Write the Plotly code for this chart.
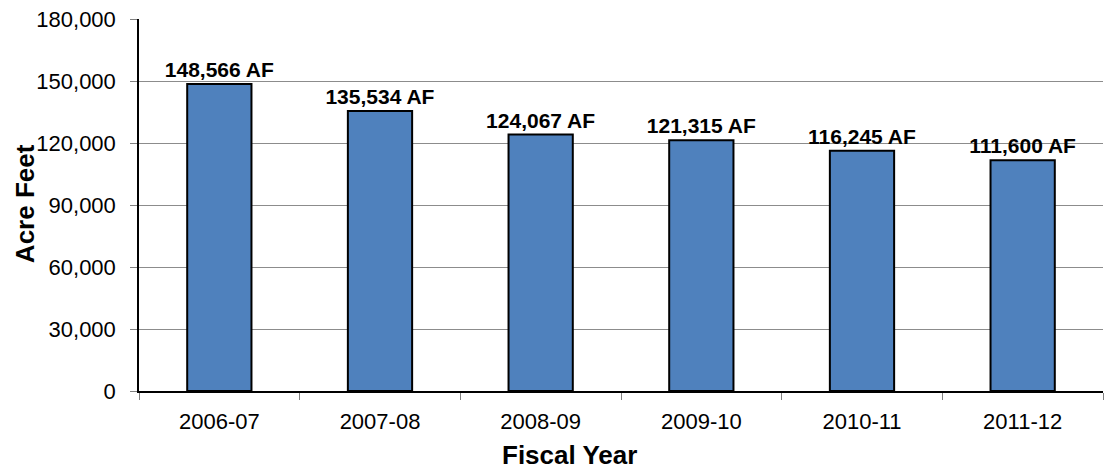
import plotly.graph_objects as go

# Annual water use by fiscal year
fiscal_years = ["2006-07", "2007-08", "2008-09", "2009-10", "2010-11", "2011-12"]
acre_feet = [148566, 135534, 124067, 121315, 116245, 111600]
y_ticks = [0, 30000, 60000, 90000, 120000, 150000, 180000]

labels = [f"{v:,} AF" for v in acre_feet]

fig = go.Figure(
    go.Bar(
        x=fiscal_years,
        y=acre_feet,
        width=0.4,
        marker=dict(color="#4F81BD", line=dict(color="#000000", width=2)),
        text=labels,
        textposition="outside",
        constraintext="none",
        textfont=dict(family="Liberation Sans, Arial, sans-serif", size=21, color="#000000"),
        texttemplate="<b>%{text}</b>",
        cliponaxis=False,
        hoverinfo="skip",
    )
)

tick_font = dict(family="Liberation Sans, Arial, sans-serif", size=22, color="#000000")
title_font = dict(family="Liberation Sans, Arial, sans-serif", size=26, color="#000000")

fig.update_layout(
    width=1104,
    height=470,
    margin=dict(l=139, r=1, t=19, b=79),
    paper_bgcolor="white",
    plot_bgcolor="white",
    showlegend=False,
    xaxis=dict(
        type="category",
        tickson="boundaries",
        ticks="outside",
        ticklen=7,
        tickcolor="#808080",
        tickwidth=1,
        showgrid=False,
        showline=True,
        linecolor="#000000",
        linewidth=1.5,
        tickfont=tick_font,
        ticklabelstandoff=10,
        range=[-0.5, 5.5],
    ),
    yaxis=dict(
        range=[0, 180000],
        tickvals=y_ticks,
        ticktext=[f"{v:,}" for v in y_ticks],
        ticks="outside",
        ticklen=7,
        tickcolor="#808080",
        tickwidth=1,
        showgrid=True,
        gridcolor="#8c8c8c",
        gridwidth=1,
        showline=True,
        linecolor="#000000",
        linewidth=1.5,
        zeroline=False,
        tickfont=tick_font,
        ticklabelstandoff=10,
    ),
    annotations=[
        dict(
            text="<b>Fiscal Year</b>",
            xref="paper", yref="paper",
            x=0.447, y=-0.171,
            xanchor="center", yanchor="middle",
            showarrow=False,
            font=title_font,
        ),
        dict(
            text="<b>Acre Feet</b>",
            xref="paper", yref="paper",
            x=-0.118, y=0.503,
            xanchor="center", yanchor="middle",
            textangle=-90,
            showarrow=False,
            font=title_font,
        ),
    ],
)

fig.write_html("out.html")
